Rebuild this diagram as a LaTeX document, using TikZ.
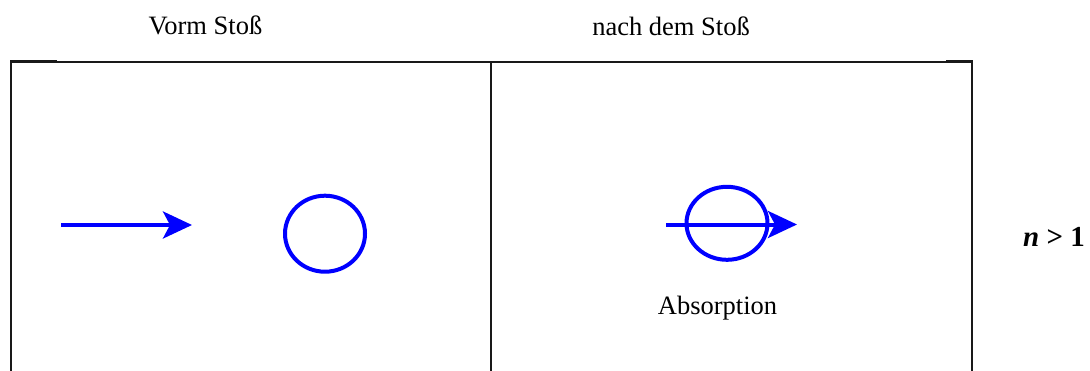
\documentclass[tikz,border=0pt]{standalone}
\usepackage{fontspec}
\setmainfont{Liberation Serif}
\usetikzlibrary{arrows.meta,shapes.geometric}
\definecolor{pblue}{RGB}{0,0,255}
\tikzset{
  frame/.style={line width=2.2pt,black!90},
  thinframe/.style={line width=1.3pt,black!90},
  bluearrow/.style={pblue,line width=4pt,-{Stealth[length=29pt,width=27pt,inset=7pt]}},
  particle/.style={draw=pblue,line width=4pt,ellipse,inner sep=0pt},
  lbl/.style={font=\fontsize{26.5}{30}\selectfont,inner sep=0pt,anchor=base}
}
\begin{document}
\begin{tikzpicture}[x=1pt,y=-1pt]
\useasboundingbox (0,0) rectangle (1090,370);
% frame
\coordinate (tl) at (11,61);
\coordinate (tr) at (972,61);
\coordinate (bl) at (11,372);
\coordinate (br) at (972,372);
\coordinate (tm) at (491,62);
\coordinate (bm) at (491,372);
\draw[thinframe] (12,62) -- (972,62);
\draw[frame] (tl) -- (57,61);
\draw[frame] (946,61) -- (tr);
\draw[frame] (11,60) -- (bl);
\draw[frame] (972,60) -- (br);
\draw[line width=2pt,black!90] (tm) -- (bm);
% labels
\node[lbl] (vor) at (205.5,34) {Vorm Stoß};
\node[lbl] (nach) at (671,35) {nach dem Stoß};
\node[lbl] (abs) at (717.5,314) {Absorption};
\node[font=\fontsize{29}{32}\selectfont\bfseries,inner sep=0pt,anchor=base] (n) at (1054,246) {\textit{n} > 1};
% left scene
\coordinate (a1s) at (61,225);
\coordinate (a1e) at (192,225);
\draw[bluearrow] (a1s) -- (a1e);
\node[particle,minimum width=80pt,minimum height=76pt] (c1) at (325,233.7) {};
% right scene
\node[particle,minimum width=81pt,minimum height=73pt] (c2) at (727,223.3) {};
\coordinate (a2s) at (666,224.5);
\coordinate (a2e) at (797,224.5);
\draw[bluearrow] (a2s) -- (a2e);
\end{tikzpicture}
\end{document}
